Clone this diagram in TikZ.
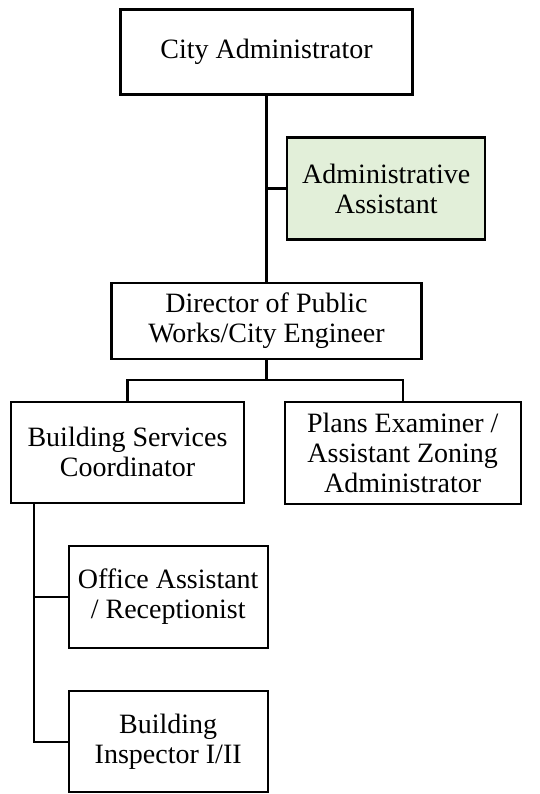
\documentclass[tikz,border=0pt]{standalone}
\usepackage{fontspec}
\setmainfont{Liberation Serif}
\tikzset{
  box/.style={draw, line width=2.2pt, align=center, inner sep=2pt,
    font=\fontsize{28}{30}\selectfont},
  link/.style={line width=2.2pt}
}
\definecolor{asstgreen}{HTML}{E2EFD9}
\begin{document}
\begin{tikzpicture}[x=1pt,y=-1pt]
\useasboundingbox (0,0) rectangle (539,794);
\node[box, minimum width=292pt, minimum height=85pt] (cityadm) at (266.5,52) {City Administrator};
\node[box, fill=asstgreen, minimum width=198pt, minimum height=102pt] (adminasst) at (386.2,188.5) {Administrative\\Assistant};
\node[box, minimum width=310pt, minimum height=76pt] (director) at (266.5,320.7) {Director of Public\\Works/City Engineer};
\node[box, minimum width=233pt, minimum height=101pt] (bldgsvc) at (127.5,452.2) {Building Services\\Coordinator};
\node[box, minimum width=236pt, minimum height=102pt] (plans) at (402.7,453) {Plans Examiner /\\Assistant Zoning\\Administrator};
\node[box, minimum width=199pt, minimum height=102pt] (office) at (168.2,596.8) {Office Assistant\\/ Receptionist};
\node[box, minimum width=199pt, minimum height=101pt] (inspector) at (168.2,741.8) {Building\\Inspector I/II};
\coordinate (bus) at (266.5,380);
\coordinate (trunk) at (34.3,503);
% lines
\draw[link] (cityadm.south) -- (director.north);
\draw[link] (adminasst.west) -- (adminasst.west -| cityadm.south);
\draw[link] (director.south) -- (bus);
\draw[link] (bldgsvc.north) |- (bus) -| (plans.north);
\draw[link] (bldgsvc.south -| trunk) |- (inspector.west);
\draw[link] (office.west) -- (office.west -| trunk);
\end{tikzpicture}
\end{document}
